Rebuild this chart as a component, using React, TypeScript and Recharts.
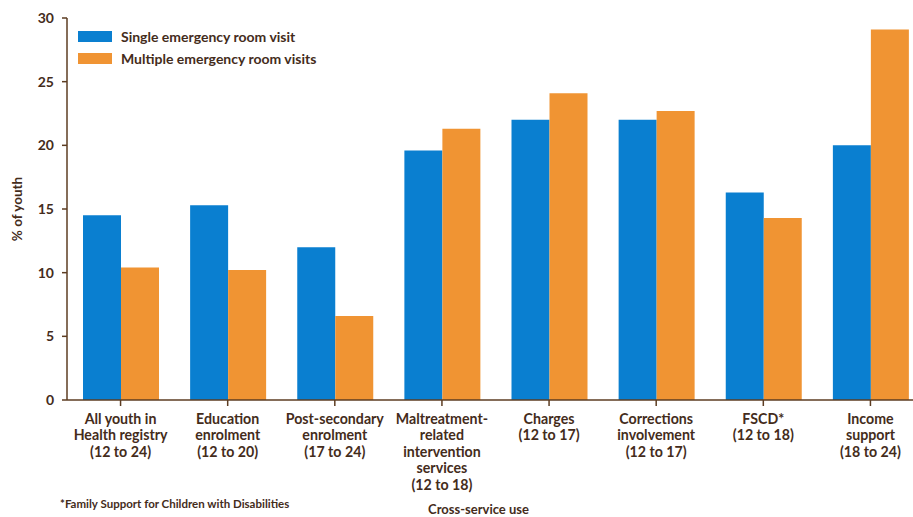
import { Bar, BarChart, Label, XAxis, YAxis } from 'recharts';

const blue = '#0a7fd0';
const orange = '#f09433';
const ink = '#442c1b';
const axisBrown = '#5d3d22';
const font = 'Lato, "Open Sans", sans-serif';

const categories = [
  ['All youth in', 'Health registry', '(12 to 24)'],
  ['Education', 'enrolment', '(12 to 20)'],
  ['Post-secondary', 'enrolment', '(17 to 24)'],
  ['Maltreatment-', 'related', 'intervention', 'services', '(12 to 18)'],
  ['Charges', '(12 to 17)'],
  ['Corrections', 'involvement', '(12 to 17)'],
  ['FSCD*', '(12 to 18)'],
  ['Income', 'support', '(18 to 24)'],
];
const singleVisit = [14.5, 15.3, 12.0, 19.6, 22.0, 22.0, 16.3, 20.0];
const multipleVisits = [10.4, 10.2, 6.6, 21.3, 24.1, 22.7, 14.3, 29.1];
const yTicks = [0, 5, 10, 15, 20, 25, 30];

const legendItems = [
  { name: 'Single emergency room visit', color: blue },
  { name: 'Multiple emergency room visits', color: orange },
];

const rows = categories.map((lines, i) => ({
  key: String(i),
  lines,
  single: singleVisit[i],
  multiple: multipleVisits[i],
}));

function CategoryTick(props: any) {
  const { x, y, payload } = props;
  const lines = rows[Number(payload.value)].lines;
  return (
    <text x={x} y={y} textAnchor="middle" fill={ink} fontFamily={font} fontWeight={700} fontSize={14.2}>
      {lines.map((l, i) => (
        <tspan key={i} x={x} dy={i === 0 ? 17.5 : 16.5}>
          {l}
        </tspan>
      ))}
    </text>
  );
}

export default function App() {
  return (
    <div style={{ position: 'fixed', left: 0, top: 0, width: 913, height: 517, overflow: 'hidden', background: '#fff' }}>
      <BarChart
        width={924}
        height={517}
        data={rows}
        margin={{ top: 18, right: 0, bottom: 0, left: 0 }}
        barCategoryGap={16}
        barGap={0}
      >
        <XAxis
          dataKey="key"
          height={117}
          interval={0}
          stroke={axisBrown}
          strokeWidth={1.5}
          tickSize={6}
          tickMargin={0}
          tick={<CategoryTick />}
        >
          <Label
            value="Cross-service use"
            position="insideBottom"
            offset={3}
            fill={ink}
            fontFamily={font}
            fontWeight={700}
            fontSize={13}
            dx={-17}
          />
        </XAxis>
        <YAxis
          width={67}
          domain={[0, 30]}
          ticks={yTicks}
          stroke={axisBrown}
          strokeWidth={1.5}
          tickSize={5}
          tickMargin={8}
          tick={{ fill: ink, fontFamily: font, fontWeight: 700, fontSize: 14 }}
        >
          <Label
            value="% of youth"
            angle={-90}
            position="insideLeft"
            offset={17}
            fill={ink}
            fontFamily={font}
            fontWeight={700}
            fontSize={13.5}
            style={{ textAnchor: 'middle' }}
          />
        </YAxis>
        <Bar dataKey="single" name="Single emergency room visit" fill={blue} isAnimationActive={false} />
        <Bar dataKey="multiple" name="Multiple emergency room visits" fill={orange} isAnimationActive={false} />
      </BarChart>
      <div
        style={{
          position: 'absolute',
          left: 78,
          top: 26,
          fontFamily: font,
          fontWeight: 700,
          fontSize: 14,
          color: ink,
        }}
      >
        {legendItems.map((it) => (
          <div key={it.name} style={{ display: 'flex', alignItems: 'center', height: 21.5 }}>
            <span style={{ display: 'inline-block', width: 34, height: 11, background: it.color, marginRight: 9 }} />
            {it.name}
          </div>
        ))}
      </div>
      <div
        style={{
          position: 'absolute',
          left: 60,
          top: 497,
          fontFamily: font,
          fontWeight: 700,
          fontSize: 11.5,
          color: ink,
        }}
      >
        *Family Support for Children with Disabilities
      </div>
    </div>
  );
}
